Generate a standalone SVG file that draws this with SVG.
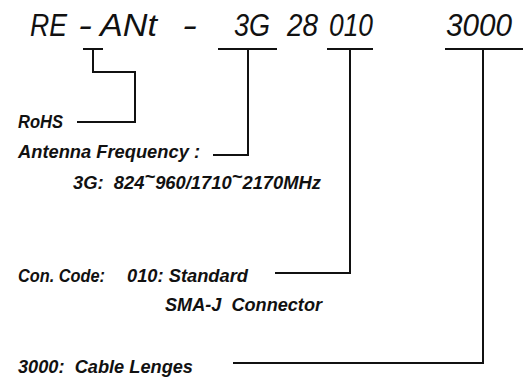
<svg xmlns="http://www.w3.org/2000/svg" width="531" height="379" viewBox="0 0 531 379">
<style>
.t{font-family:"Liberation Sans",Arial,sans-serif;font-style:italic;font-size:31px;fill:#111;}
.l{font-family:"Liberation Sans",Arial,sans-serif;font-style:italic;font-weight:bold;font-size:18px;fill:#111;}
.c{fill:none;stroke:#111;stroke-width:2;stroke-linecap:square;stroke-linejoin:miter;}
</style>
<rect width="531" height="379" fill="#fff"/>
<g id="title">
<text class="t" x="30" y="36" textLength="37" lengthAdjust="spacingAndGlyphs">RE</text>
<text class="t" x="78" y="36" textLength="14" lengthAdjust="spacingAndGlyphs">-</text>
<text class="t" x="100" y="36" textLength="57" lengthAdjust="spacingAndGlyphs">ANt</text>
<text class="t" x="182" y="36" textLength="15" lengthAdjust="spacingAndGlyphs">-</text>
<text class="t" x="234" y="36" textLength="36" lengthAdjust="spacingAndGlyphs">3G</text>
<text class="t" x="287" y="36" textLength="31" lengthAdjust="spacingAndGlyphs">28</text>
<text class="t" x="329" y="36" textLength="44" lengthAdjust="spacingAndGlyphs">010</text>
<text class="t" x="446" y="36" textLength="66" lengthAdjust="spacingAndGlyphs">3000</text>
</g>
<g id="rohs">
<text class="l" x="18" y="128" textLength="45" lengthAdjust="spacingAndGlyphs">RoHS</text>
</g>
<g id="freq">
<text class="l" x="18" y="158" textLength="182" lengthAdjust="spacingAndGlyphs">Antenna Frequency :</text>
<text class="l" x="73" y="189" textLength="248" lengthAdjust="spacingAndGlyphs" xml:space="preserve">3G:  824<tspan dy="-6">~</tspan><tspan dy="6">960/1710</tspan><tspan dy="-6">~</tspan><tspan dy="6">2170MHz</tspan></text>
</g>
<g id="con">
<text class="l" x="18" y="282" textLength="87" lengthAdjust="spacingAndGlyphs">Con. Code:</text>
<text class="l" x="127" y="282" textLength="121" lengthAdjust="spacingAndGlyphs">010: Standard</text>
<text class="l" x="165" y="311" textLength="157" lengthAdjust="spacingAndGlyphs" xml:space="preserve">SMA-J  Connector</text>
</g>
<g id="cable">
<text class="l" x="18" y="373" textLength="175" lengthAdjust="spacingAndGlyphs" xml:space="preserve">3000:  Cable Lenges</text>
</g>
<g id="connectors">
<path class="c" d="M84 49H102M93 49V72H135V122H78"/>
<path class="c" d="M219 49H276M248 49V155H214"/>
<path class="c" d="M328 49H372M350 49V273H276"/>
<path class="c" d="M446 49H522M483 49V363H234"/>
</g>
</svg>
